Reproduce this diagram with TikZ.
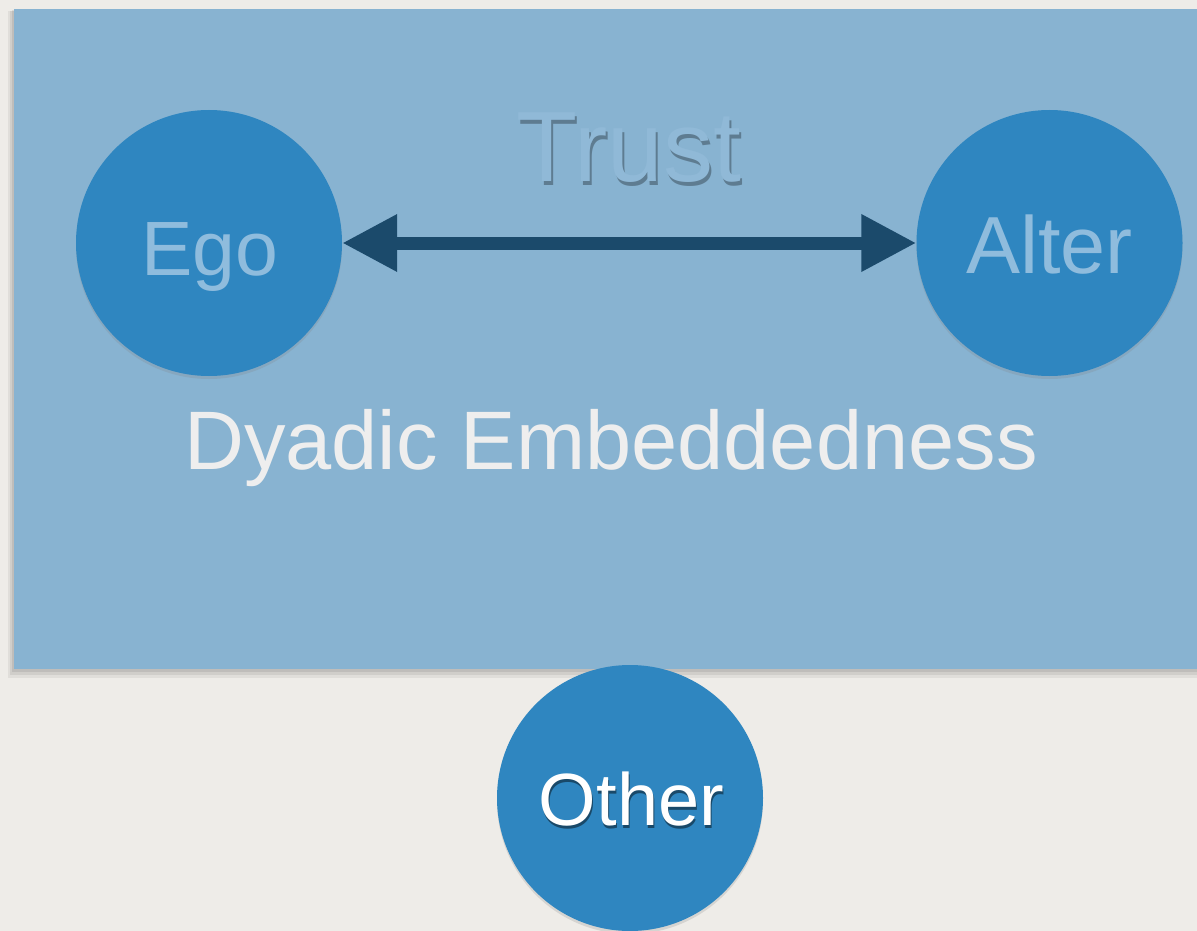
\documentclass[tikz,border=0pt]{standalone}
\usepackage{fontspec}
\setmainfont{Liberation Sans}
\usetikzlibrary{arrows.meta,shadows}
\definecolor{paper}{HTML}{EEECE8}
\definecolor{panel}{HTML}{88B3D1}
\definecolor{disc}{HTML}{2F86C0}
\definecolor{arrowc}{HTML}{1B4A6B}
\definecolor{lightlbl}{HTML}{8FBCDD}
\definecolor{trustc}{HTML}{90B9D7}
\definecolor{dyadc}{HTML}{EEEEEE}
\tikzset{
  discnode/.style={circle,fill=disc,minimum size=266pt,inner sep=0pt,
    drop shadow={shadow xshift=0pt,shadow yshift=-3pt,opacity=0.22}},
  lbl/.style={anchor=base,inner sep=0pt},
  tshadow/.style={anchor=base,inner sep=0pt,text=black,opacity=0.3},
  bigfont/.style={font=\fontsize{#1}{#1}\selectfont}
}
\begin{document}
\begin{tikzpicture}[x=1pt,y=-1pt]
\useasboundingbox (0,0) rectangle (1197,931);
\fill[paper] (0,0) rectangle (1197,931);
% panel with soft shadow
\fill[black,opacity=0.06] (8,11) rectangle (1197,678);
\fill[black,opacity=0.07] (10,11) rectangle (1197,675);
\fill[black,opacity=0.08] (12,10) rectangle (1197,672);
\fill[panel] (14,9) rectangle (1197,669);
% discs
\node[discnode] (ego) at (209,243) {};
\node[discnode] (alter) at (1049.5,243) {};
\node[discnode] (other) at (630,798) {};
% arrow
\draw[arrowc,line width=13pt,{Triangle[length=55pt,width=54pt]}-{Triangle[length=55pt,width=54pt]}] (ego.east) -- (alter.west);
% labels
\node[tshadow,bigfont=100] (trustsh) at (631,185.5) {Trust};
\node[lbl,bigfont=100,text=trustc] (trust) at (629,182) {Trust};
\node[lbl,bigfont=83,text=dyadc] (dyad) at (611,469) {Dyadic Embeddedness};
\node[lbl,bigfont=77,text=lightlbl] (egot) at (210,275) {Ego};
\node[lbl,bigfont=81,text=lightlbl] (altert) at (1049.5,273) {Alter};
\node[tshadow,bigfont=74,opacity=0.45] (othersh) at (632.5,828) {Other};
\node[lbl,bigfont=74,text=white] (othert) at (631.5,825) {Other};
\end{tikzpicture}
\end{document}
